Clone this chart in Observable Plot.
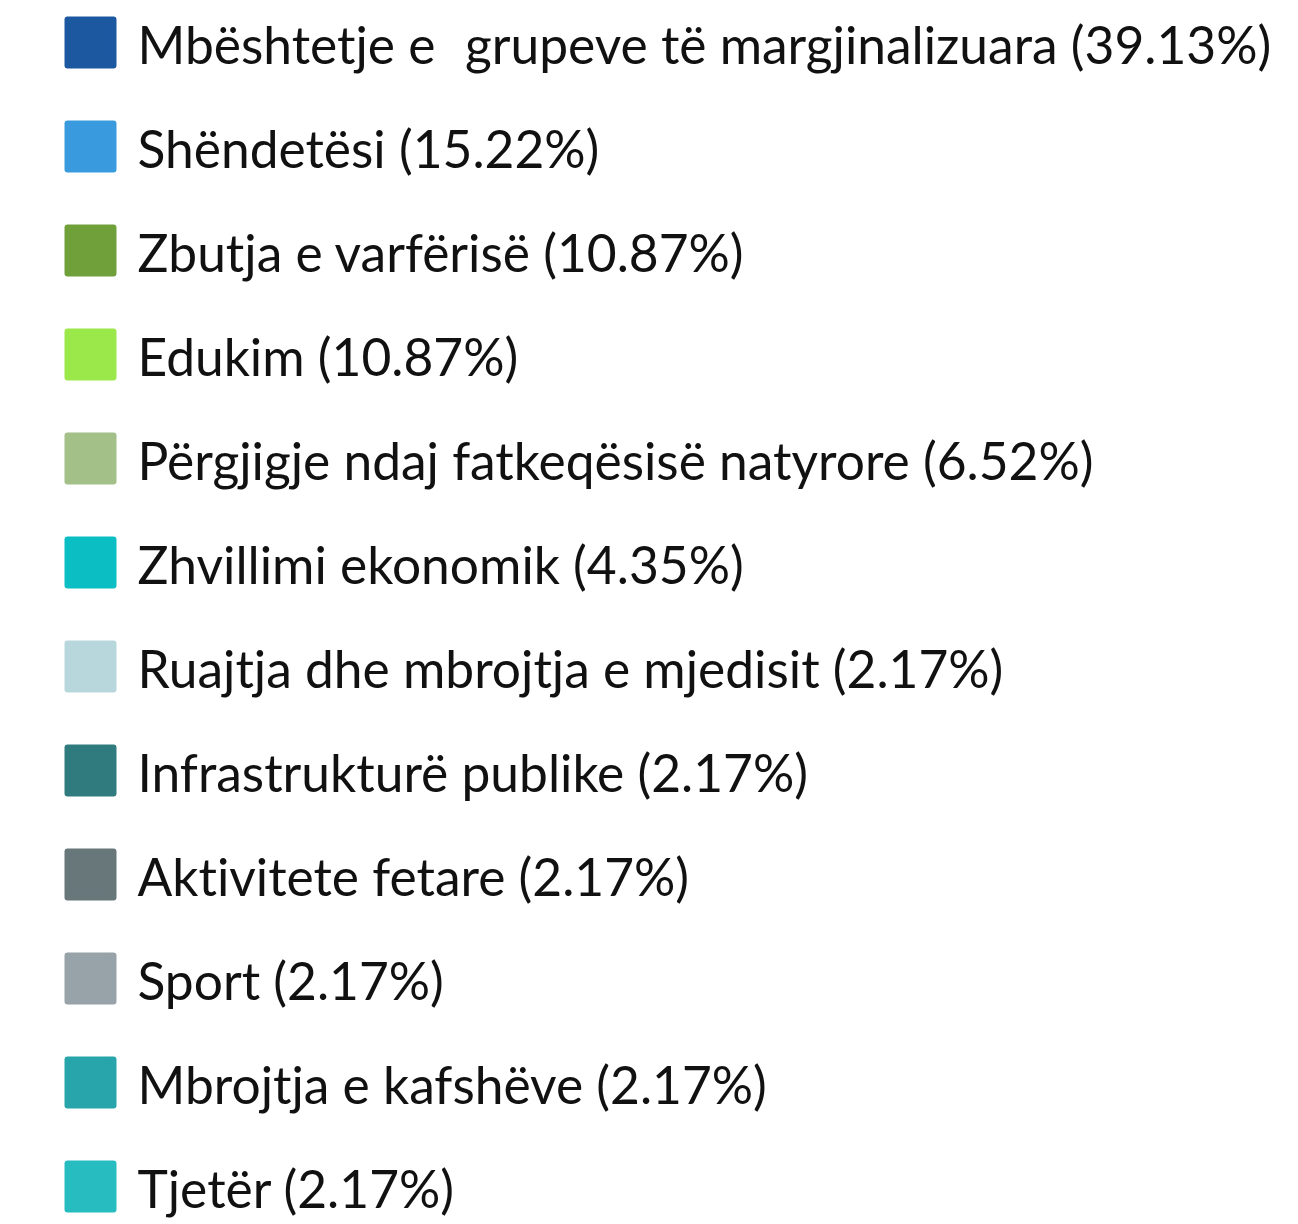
<!DOCTYPE html>
<html>
<head>
<meta charset="utf-8">
<script src="https://cdn.jsdelivr.net/npm/d3@7"></script>
<script src="https://cdn.jsdelivr.net/npm/@observablehq/plot@0.6"></script>
<style>
  html, body { margin: 0; padding: 0; background: #fff; overflow: hidden; }
  #chart svg text { white-space: pre; font-variant-ligatures: none; font-feature-settings: "liga" 0, "clig" 0; }
</style>
</head>
<body>
<div id="chart"></div>
<script>
const categories = [
  "Mbështetje e  \u200Agrupeve të margjinalizuara",
  "Shëndetësi",
  "Zbutja e varfërisë",
  "Edukim",
  "Përgjigje ndaj fatkeqësisë natyrore",
  "Zhvillimi ekonomik",
  "Ruajtja dhe mbrojtja e mjedisit",
  "Infrastrukturë publike",
  "Aktivitete fetare",
  "Sport",
  "Mbrojtja e kafshëve",
  "Tjetër"
];
const shares = [39.13, 15.22, 10.87, 10.87, 6.52, 4.35, 2.17, 2.17, 2.17, 2.17, 2.17, 2.17];
const colors = [
  "#1b58a0", "#3a9ade", "#6fa03a", "#9be84a", "#a2c087", "#0bbec3",
  "#b7d7dd", "#2f7b7d", "#67777a", "#97a3a8", "#27a5aa", "#27bcc0"
];

const rows = categories.map((c, i) => ({
  category: c,
  label: `${c} (${shares[i].toFixed(2)}%)`,
  color: colors[i]
}));

const W = 1298, H = 1224;
const chart = Plot.plot({
  width: W,
  height: H,
  margin: 0,
  style: { background: "#fff", fontFamily: "Lato, sans-serif" },
  x: { axis: null, domain: [0, 1] },
  y: { type: "band", domain: categories, range: [-10, 1238], padding: 0, axis: null },
  color: { type: "identity" },
  marks: [
    Plot.dot(rows, {
      y: "category",
      frameAnchor: "left",
      dx: 90,
      symbol: "square",
      r: 25.95,
      fill: "color",
      stroke: "color",
      strokeWidth: 6,
      strokeLinejoin: "round"
    }),
    Plot.text(rows, {
      y: "category",
      text: "label",
      frameAnchor: "left",
      dx: 137,
      dy: 5,
      textAnchor: "start",
      fontSize: 51.5,
      fontFamily: "Lato",
      fill: "#111",
      lineAnchor: "middle"
    })
  ]
});
document.getElementById("chart").appendChild(chart);
</script>
</body>
</html>
